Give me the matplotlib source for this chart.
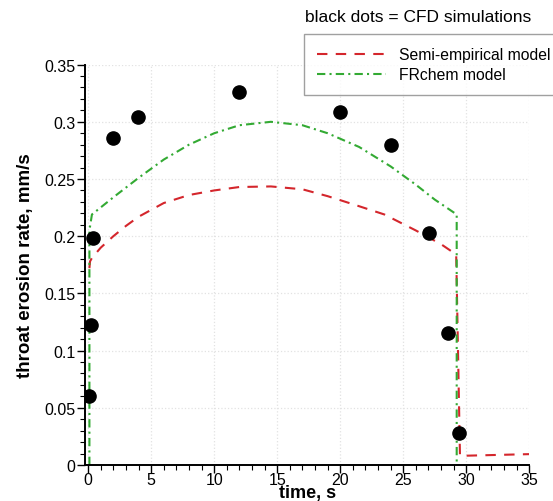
import matplotlib
matplotlib.use("Agg")
import matplotlib.pyplot as plt
from matplotlib.ticker import MultipleLocator, FuncFormatter

plt.rcParams['font.family'] = ['Liberation Sans', 'DejaVu Sans']

# CFD simulation points
cfd_t = [0.1, 0.2, 0.4, 1.95, 3.97, 11.98, 20.0, 24.0, 27.05, 28.57, 29.42]
cfd_rate = [0.060, 0.122, 0.198, 0.286, 0.304, 0.326, 0.309, 0.280, 0.203, 0.115, 0.028]

# Semi-empirical model
semi_t = [0.1, 0.15, 0.3, 1.0, 2.0, 3.0, 4.0, 6.0, 8.0, 10.0, 12.0, 14.5, 17.0,
          19.0, 21.0, 23.5, 26.0, 28.0, 29.2, 29.5, 35.0]
semi_rate = [0.172, 0.178, 0.181, 0.190, 0.200, 0.209, 0.217, 0.229, 0.236, 0.240,
             0.243, 0.2435, 0.241, 0.235, 0.228, 0.219, 0.205, 0.193, 0.184, 0.008, 0.0095]

# FRchem model
fr_t = [0.1, 0.1, 0.3, 2.0, 4.0, 6.0, 8.0, 10.0, 12.0, 14.5, 17.0, 19.0, 21.5,
        24.0, 26.0, 27.5, 29.24, 29.24]
fr_rate = [0.0, 0.205, 0.219, 0.234, 0.251, 0.267, 0.280, 0.290, 0.297, 0.300, 0.297,
           0.290, 0.278, 0.261, 0.245, 0.232, 0.219, 0.0]

xticks = [0, 5, 10, 15, 20, 25, 30, 35]
yticks = [0, 0.05, 0.1, 0.15, 0.2, 0.25, 0.3, 0.35]

fig = plt.figure(figsize=(5.53, 5.02), dpi=100)
ax = fig.add_axes([85/553, 1-466/502, (529.3-85)/553, (466-65.6)/502])

red = '#d4262c'
green = '#33aa33'
ax.plot(semi_t, semi_rate, color=red, lw=1.5, dashes=(5, 4), label='Semi-empirical model')
ax.plot(fr_t, fr_rate, color=green, lw=1.5, dashes=(4, 2, 1, 2), label='FRchem model')
ax.plot(cfd_t, cfd_rate, 'o', color='black', ms=9.5, zorder=5)

ax.set_xlim(-0.25, 35)
ax.set_ylim(0, 0.35)
ax.set_xticks(xticks)
ax.set_yticks(yticks)
ax.xaxis.set_minor_locator(MultipleLocator(1))
ax.yaxis.set_minor_locator(MultipleLocator(0.01))
ax.yaxis.set_major_formatter(FuncFormatter(lambda v, p: ('%g' % round(v, 3))))
ax.xaxis.set_major_formatter(FuncFormatter(lambda v, p: ('%g' % v)))

for s in ['top', 'right']:
    ax.spines[s].set_visible(False)
for s in ['left', 'bottom']:
    ax.spines[s].set_linewidth(1.4)
ax.tick_params(which='major', direction='out', length=6, width=1, labelsize=11.5, pad=1)
ax.tick_params(axis='x', which='major', pad=-1)
ax.tick_params(which='minor', direction='out', length=3.5, width=0.8)
ax.grid(True, which='major', color='#e2e2e2', linestyle=':', lw=0.9)
ax.set_axisbelow(True)

ax.set_xlabel('time, s', fontsize=13, fontweight='bold', labelpad=-2)
ax.set_ylabel('throat erosion rate, mm/s', fontsize=13.5, fontweight='bold', labelpad=7)

fig.text(305/553, 1-18/502, 'black dots = CFD simulations', fontsize=12.5,
         ha='left', va='center')
leg = fig.legend(loc='upper left', bbox_to_anchor=(304/553, 1-35/502),
                 fontsize=11.3, frameon=True, fancybox=False, handlelength=4.4,
                 handletextpad=0.8, borderpad=0.85, labelspacing=0.3,
                 borderaxespad=0)
leg.get_frame().set_edgecolor('#888888')
leg.get_frame().set_linewidth(1.0)

fig.savefig('out.png', dpi=100)
